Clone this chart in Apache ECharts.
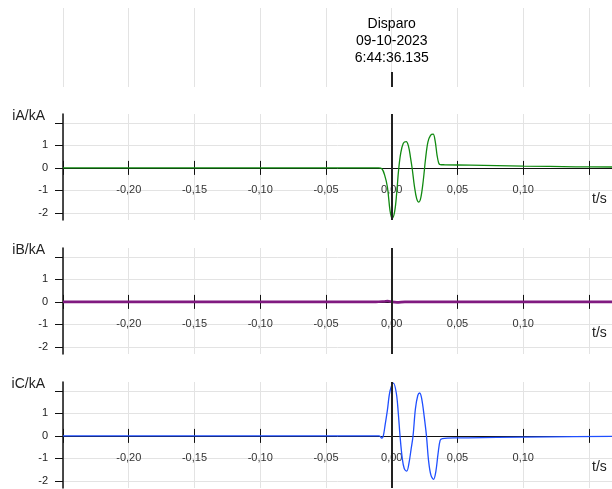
<!DOCTYPE html>
<html><head><meta charset="utf-8">
<script src="https://cdn.jsdelivr.net/npm/echarts@6/dist/echarts.min.js"></script>
<style>html,body{margin:0;padding:0;background:#fff}#c{width:612px;height:489px}</style>
</head><body><div id="c"></div>
<script>
// ---- data ----
const xTicks = [-0.25, -0.20, -0.15, -0.10, -0.05, 0, 0.05, 0.10, 0.15];
const xTickLabels = [-0.20, -0.15, -0.10, -0.05, 0, 0.05, 0.10];
const yTicks = [-2, -1, 0, 1, 2];
const yTickLabels = [-2, -1, 0, 1];
const triggerTime = 0;
const triggerText = ['Disparo', '09-10-2023', '6:44:36.135'];
const panelNames = ['iA/kA', 'iB/kA', 'iC/kA'];

const timeA = [-0.25, -0.010, -0.0075, -0.0055, -0.0033, -0.0013, 0.0003, 0.0022, 0.0038, 0.0052, 0.0068, 0.0088, 0.0110, 0.0128, 0.0143, 0.0156, 0.0172, 0.0190, 0.0206, 0.0222, 0.0240, 0.0258, 0.0275, 0.0295, 0.0315, 0.0330, 0.0345, 0.0357, 0.0368, 0.0400, 0.0600, 0.1000, 0.1400, 0.1675];
const iA    = [0, 0, -0.04, -0.3, -0.85, -1.9, -2.25, -1.95, -1.1, -0.1, 0.65, 1.1, 1.17, 0.95, 0.45, -0.05, -0.8, -1.38, -1.52, -1.3, -0.55, 0.45, 1.15, 1.45, 1.5, 1.2, 0.55, 0.22, 0.15, 0.14, 0.12, 0.08, 0.05, 0.04];

const timeB = [-0.25, -0.012, -0.006, -0.003, 0.000, 0.004, 0.010, 0.020, 0.1675];
const iB    = [0, 0, 0.02, 0.04, 0.0, -0.02, 0, 0, 0];

const timeC = [-0.25, -0.0095, -0.0076, -0.0065, -0.0050, -0.0033, -0.0013, 0.0013, 0.0035, 0.0050, 0.0063, 0.0080, 0.0095, 0.0114, 0.0130, 0.0147, 0.0162, 0.0180, 0.0198, 0.0213, 0.0228, 0.0246, 0.0264, 0.0280, 0.0298, 0.0318, 0.0335, 0.0352, 0.0368, 0.0385, 0.0500, 0.0800, 0.1200, 0.1675];
const iC    = [0, 0, -0.1, -0.02, 0.5, 1.15, 2.0, 2.35, 1.9, 1.0, 0.0, -1.0, -1.45, -1.57, -1.25, -0.6, 0.0, 1.2, 1.8, 1.91, 1.65, 0.9, 0.0, -1.1, -1.75, -1.94, -1.6, -0.8, -0.2, -0.12, -0.09, -0.07, -0.04, -0.02];

const panels = [
  {name: panelNames[0], t: timeA, v: iA, color: '#118a11', width: 1.3},
  {name: panelNames[1], t: timeB, v: iB, color: '#801a80', width: 2.6},
  {name: panelNames[2], t: timeC, v: iC, color: '#1f4fff', width: 1.3}
];

// ---- layout ----
const X_MIN = -0.25, X_MAX = 0.1675, Y_MIN = -2.32, Y_MAX = 2.4;
const PANEL_H = 106;
const FONT = 'Liberation Sans, Arial, sans-serif';
const gridCol = '#e3e3e3';
const axisCol = '#111';
const fmtX = v => (Math.abs(v) < 1e-9 ? 0 : v).toFixed(2).replace('.', ',');
// distance of the zero line from the bottom / top edge of each panel
const zeroFromBottom = PANEL_H * (0 - Y_MIN) / (Y_MAX - Y_MIN);
const zeroFromTop = PANEL_H - zeroFromBottom;

const grids = [{left: 63, right: 0, top: 8, height: 79, outerBoundsMode: 'none', containLabel: false}];
const xAxes = [{
  gridIndex: 0, type: 'value', min: X_MIN, max: X_MAX,
  axisLine: {show: false}, axisTick: {show: false, customValues: xTicks},
  axisLabel: {show: false}, splitLine: {show: true, lineStyle: {color: gridCol, width: 1}}
}];
const yAxes = [{gridIndex: 0, type: 'value', min: 0, max: 1, show: false}];
const series = [{
  type: 'line', xAxisIndex: 0, yAxisIndex: 0, data: [], silent: true,
  markLine: {
    silent: true, symbol: ['none', 'none'], animation: false,
    lineStyle: {color: '#222', width: 2, type: 'solid'},
    label: {show: true, position: 'end', distance: 5, formatter: triggerText.join('\n'),
            fontFamily: FONT, fontSize: 14, lineHeight: 17, color: '#000'},
    data: [[{coord: [triggerTime, 0]}, {coord: [triggerTime, 0.19]}]]
  }
}];

const xIdx = [];
panels.forEach((p, i) => {
  const g = i + 1;
  grids.push({left: 63, right: 0, top: 114 + 134 * i, height: PANEL_H, outerBoundsMode: 'none', containLabel: false});
  xIdx.push(xAxes.length);
  xAxes.push({
    gridIndex: g, type: 'value', min: X_MIN, max: X_MAX, position: 'bottom', offset: -zeroFromBottom,
    axisLine: {show: true, onZero: false, lineStyle: {color: axisCol, width: 1}},
    axisTick: {show: true, customValues: xTicks, length: 7, lineStyle: {color: axisCol, width: 1}},
    axisLabel: {show: true, customValues: xTickLabels, formatter: fmtX, margin: 17,
                fontFamily: FONT, fontSize: 11, color: '#333'},
    splitLine: {show: true, lineStyle: {color: gridCol, width: 1}},
    name: 't/s', nameLocation: 'end', nameGap: -20,
    nameTextStyle: {fontFamily: FONT, fontSize: 14, color: '#222', align: 'left', verticalAlign: 'top', padding: [24, 0, 0, 0]}
  });
  xAxes.push({
    gridIndex: g, type: 'value', min: X_MIN, max: X_MAX, position: 'top', offset: -zeroFromTop,
    axisLine: {show: false, onZero: false},
    axisTick: {show: true, inside: false, customValues: xTicks, length: 7, lineStyle: {color: axisCol, width: 1}},
    axisLabel: {show: false}, splitLine: {show: false}
  });
  yAxes.push({
    gridIndex: g, type: 'value', min: Y_MIN, max: Y_MAX,
    axisLine: {show: true, onZero: false, lineStyle: {color: axisCol, width: 1.5}},
    axisTick: {show: true, customValues: yTicks, length: 8, lineStyle: {color: axisCol, width: 1}},
    axisLabel: {show: true, customValues: yTickLabels, margin: 15, fontFamily: FONT, fontSize: 11, color: '#222'},
    splitLine: {show: true, lineStyle: {color: gridCol, width: 1}},
    name: p.name, nameLocation: 'end', nameGap: -2,
    nameTextStyle: {fontFamily: FONT, fontSize: 14, color: '#222', align: 'right', verticalAlign: 'middle', padding: [0, 18, 0, 0]}
  });
});
panels.forEach((p, i) => {
  series.push({
    type: 'line', xAxisIndex: xIdx[i], yAxisIndex: i + 1,
    data: p.t.map((t, k) => [t, p.v[k]]),
    showSymbol: false, smooth: 0.35, clip: true,
    lineStyle: {color: p.color, width: p.width}, itemStyle: {color: p.color},
    markLine: {
      silent: true, symbol: ['none', 'none'], animation: false,
      lineStyle: {color: '#222', width: 2, type: 'solid'}, label: {show: false},
      data: [{xAxis: triggerTime}]
    }
  });
});

const chart = echarts.init(document.getElementById('c'), null, {renderer: 'canvas'});
chart.setOption({
  animation: false, backgroundColor: '#fff',
  textStyle: {fontFamily: FONT},
  grid: grids, xAxis: xAxes, yAxis: yAxes, series: series
});
</script></body></html>
